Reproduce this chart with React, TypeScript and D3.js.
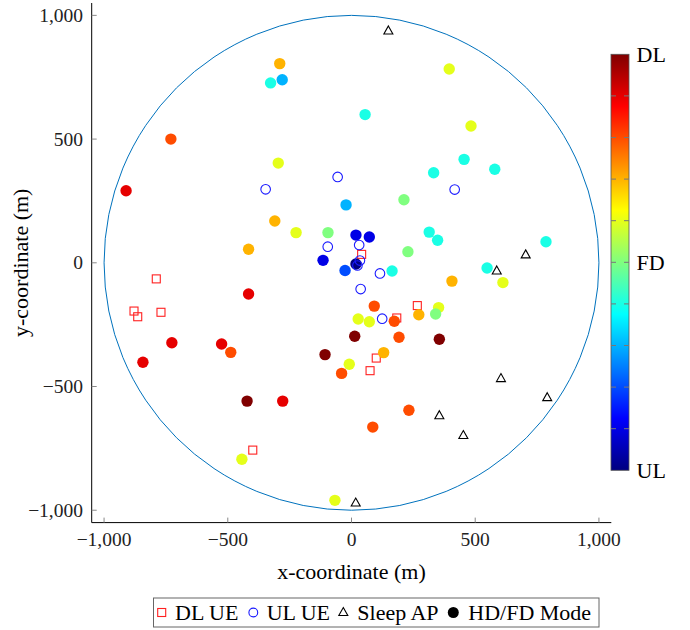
import React, { useEffect, useRef } from "react";
import * as d3 from "d3";

// DL UE positions (m)
const dlX = [41, 266, 183, 100, 75, -789, -879, -864, -770, -399];
const dlY = [34, -173, -223, -385, -436, -65, -195, -218, -200, -757];

// UL UE positions (m)
const ulX = [-347, -56, 417, -96, 31, 34, 24, 115, 37, 124];
const ulY = [297, 347, 296, 65, 72, 9, -11, -43, -106, -226];

// sleeping APs
const sleepX = [149, 704, 587, 604, 791, 355, 452, 17];
const sleepY = [937, 32, -33, -468, -545, -618, -698, -971];

// active APs, mode on the colorbar: 0 = UL, 0.5 = FD, 1 = DL
const apX = [
  -290, -280, -327, 395, 55, 483, -296, 455, 332, 579, 212, -730, -911, -22,
  -224, -95, 18, 72, 314, 348, 228, -115, 18, -26, 164, 786, 548, 406, 612,
  -310, -416, -416, 92, 352, 272, 340, 27, 72, 173, 13, 192, 355, 130, -107,
  -9, -40, 232, 86, -726, -843, -525, -488, -422, -278, -443, -67,
];
const apY = [
  805, 740, 727, 783, 599, 553, 403, 418, 364, 378, 255, 500, 291, 234, 122,
  122, 112, 104, 124, 91, 45, 10, -5, -31, -33, 85, -21, -74, -80, 169, 55,
  -126, -175, -181, -210, -207, -227, -238, -236, -297, -301, -309, -363,
  -371, -410, -447, -596, -664, -323, -402, -328, -362, -559, -559, -794, -960,
];
const apMode = [
  0.7, 0.3, 0.4, 0.6, 0.4, 0.6, 0.6, 0.4, 0.4, 0.4, 0.5, 0.8, 0.9, 0.3, 0.6,
  0.5, 0.1, 0.1, 0.4, 0.4, 0.5, 0.1, 0, 0.2, 0.4, 0.4, 0.4, 0.7, 0.6, 0.7, 0.7,
  0.9, 0.8, 0.6, 0.7, 0.5, 0.6, 0.6, 0.8, 1, 0.8, 1, 0.7, 1, 0.6, 0.8, 0.8,
  0.8, 0.9, 0.9, 0.9, 0.8, 1, 0.9, 0.6, 0.6,
];

const axisTicks = [-1000, -500, 0, 500, 1000];
const cbLabels = [
  { v: 1, t: "DL" },
  { v: 0.5, t: "FD" },
  { v: 0, t: "UL" },
];

const jetStops = [0, 1 / 8, 3 / 8, 5 / 8, 7 / 8, 1];
const jetColors = ["#000080", "#0000ff", "#00ffff", "#ffff00", "#ff0000", "#800000"];

const FONT = "Liberation Serif, DejaVu Serif, serif";

const App = () => {
  const ref = useRef<SVGSVGElement>(null);

  useEffect(() => {
    const width = 690;
    const height = 630;
    const svg = d3.select(ref.current);
    svg.selectAll("*").remove();
    svg.attr("width", width).attr("height", height).attr("font-family", FONT);

    const x = d3.scaleLinear().domain([-1050, 1050]).range([91.7, 611.3]);
    const y = d3.scaleLinear().domain([-1050, 1050]).range([522.6, 3]);
    const jet = d3.scaleLinear<string>().domain(jetStops).range(jetColors);
    const fmt = d3.format(",");

    const g = svg.append("g");

    // coverage circle
    g.append("ellipse")
      .attr("cx", x(0))
      .attr("cy", y(0))
      .attr("rx", x(1000) - x(0))
      .attr("ry", y(0) - y(1000))
      .attr("fill", "none")
      .attr("stroke", "#0072bd")
      .attr("stroke-width", 1);

    // DL UE squares
    const sq = 8;
    g.selectAll("rect.dl")
      .data(dlX.map((d, i) => [d, dlY[i]]))
      .enter()
      .append("rect")
      .attr("class", "dl")
      .attr("x", (d) => x(d[0]) - sq / 2)
      .attr("y", (d) => y(d[1]) - sq / 2)
      .attr("width", sq)
      .attr("height", sq)
      .attr("fill", "none")
      .attr("stroke", "#ff2020")
      .attr("stroke-width", 1.1);

    // HD/FD APs
    g.selectAll("circle.ap")
      .data(apX.map((d, i) => [d, apY[i], apMode[i]]))
      .enter()
      .append("circle")
      .attr("class", "ap")
      .attr("cx", (d) => x(d[0]))
      .attr("cy", (d) => y(d[1]))
      .attr("r", 5.7)
      .attr("fill", (d) => jet(d[2]));

    // UL UE circles
    g.selectAll("circle.ul")
      .data(ulX.map((d, i) => [d, ulY[i]]))
      .enter()
      .append("circle")
      .attr("class", "ul")
      .attr("cx", (d) => x(d[0]))
      .attr("cy", (d) => y(d[1]))
      .attr("r", 4.8)
      .attr("fill", "none")
      .attr("stroke", "#1a1aff")
      .attr("stroke-width", 1.1);

    // sleep AP triangles
    const tri = (cx: number, cy: number) =>
      `M${cx},${cy - 5} L${cx + 4.5},${cy + 3} L${cx - 4.5},${cy + 3} Z`;
    g.selectAll("path.sleep")
      .data(sleepX.map((d, i) => [d, sleepY[i]]))
      .enter()
      .append("path")
      .attr("class", "sleep")
      .attr("d", (d) => tri(x(d[0]), y(d[1])))
      .attr("fill", "none")
      .attr("stroke", "#000")
      .attr("stroke-width", 1.1);

    // axes
    const x0 = x.range()[0];
    const y0 = y.range()[0];
    g.append("line")
      .attr("x1", x0)
      .attr("x2", x0)
      .attr("y1", y.range()[1])
      .attr("y2", y0)
      .attr("stroke", "#000")
      .attr("stroke-width", 1);
    g.append("line")
      .attr("x1", x0)
      .attr("x2", x.range()[1])
      .attr("y1", y0)
      .attr("y2", y0)
      .attr("stroke", "#000")
      .attr("stroke-width", 1);

    axisTicks.forEach((t) => {
      g.append("line")
        .attr("x1", x(t))
        .attr("x2", x(t))
        .attr("y1", y0)
        .attr("y2", y0 - 5)
        .attr("stroke", "#888");
      g.append("text")
        .attr("x", x(t))
        .attr("y", 546)
        .attr("text-anchor", "middle")
        .attr("font-size", 19.5)
        .attr("fill", "#222")
        .text(fmt(t));

      g.append("line")
        .attr("x1", x0)
        .attr("x2", x0 + 5)
        .attr("y1", y(t))
        .attr("y2", y(t))
        .attr("stroke", "#888");
      g.append("text")
        .attr("x", 83)
        .attr("y", y(t) + 6.5)
        .attr("text-anchor", "end")
        .attr("font-size", 19.5)
        .attr("fill", "#222")
        .text(fmt(t));
    });

    // axis labels
    g.append("text")
      .attr("x", x(0))
      .attr("y", 579)
      .attr("text-anchor", "middle")
      .attr("font-size", 22)
      .text("x-coordinate (m)");
    g.append("text")
      .attr("transform", `translate(28,${y(0)}) rotate(-90)`)
      .attr("text-anchor", "middle")
      .attr("font-size", 22)
      .text("y-coordinate (m)");

    // colorbar
    const cb = d3.scaleLinear().domain([0, 1]).range([470.3, 54.3]);
    const cbX = 611;
    const cbW = 18;
    const grad = svg
      .append("defs")
      .append("linearGradient")
      .attr("id", "jet")
      .attr("x1", 0)
      .attr("y1", 1)
      .attr("x2", 0)
      .attr("y2", 0);
    jetStops.forEach((s, i) => {
      grad
        .append("stop")
        .attr("offset", s)
        .attr("stop-color", jetColors[i]);
    });
    g.append("rect")
      .attr("x", cbX)
      .attr("y", cb(1))
      .attr("width", cbW)
      .attr("height", cb(0) - cb(1))
      .attr("fill", "url(#jet)")
      .attr("stroke", "#555")
      .attr("stroke-width", 0.8);
    d3.range(1, 10).forEach((k) => {
      const ty = cb(k / 10);
      [
        [cbX, cbX + 5],
        [cbX + cbW - 5, cbX + cbW],
      ].forEach(([a, b]) => {
        g.append("line")
          .attr("x1", a)
          .attr("x2", b)
          .attr("y1", ty)
          .attr("y2", ty)
          .attr("stroke", "#777")
          .attr("stroke-width", 1);
      });
    });
    cbLabels.forEach((l) => {
      g.append("text")
        .attr("x", 636.5)
        .attr("y", cb(l.v) + 7.5)
        .attr("font-size", 22)
        .text(l.t);
    });

    // legend
    const lg = g.append("g");
    lg.append("rect")
      .attr("x", 153.5)
      .attr("y", 598)
      .attr("width", 445.5)
      .attr("height", 29)
      .attr("fill", "#fff")
      .attr("stroke", "#666")
      .attr("stroke-width", 1);
    const ly = 612.5;
    const lt = 619.5;
    lg.append("rect")
      .attr("x", 161.7 - 4)
      .attr("y", ly - 4)
      .attr("width", 8)
      .attr("height", 8)
      .attr("fill", "none")
      .attr("stroke", "#ff2020")
      .attr("stroke-width", 1.1);
    lg.append("circle")
      .attr("cx", 253.3)
      .attr("cy", ly)
      .attr("r", 4.4)
      .attr("fill", "none")
      .attr("stroke", "#1a1aff")
      .attr("stroke-width", 1.1);
    lg.append("path")
      .attr("d", tri(343.3, ly))
      .attr("fill", "none")
      .attr("stroke", "#000")
      .attr("stroke-width", 1.1);
    lg.append("circle")
      .attr("cx", 453.3)
      .attr("cy", ly)
      .attr("r", 5.5)
      .attr("fill", "#000");
    [
      ["DL UE", 175],
      ["UL UE", 266.7],
      ["Sleep AP", 357.3],
      ["HD/FD Mode", 468.3],
    ].forEach(([t, lx]) => {
      lg.append("text")
        .attr("x", lx)
        .attr("y", lt)
        .attr("font-size", 22)
        .text(t as string);
    });
  }, []);

  return (
    <div style={{ position: "absolute", left: 0, top: 0 }}>
      <svg ref={ref} style={{ display: "block" }} />
    </div>
  );
};

export default App;
